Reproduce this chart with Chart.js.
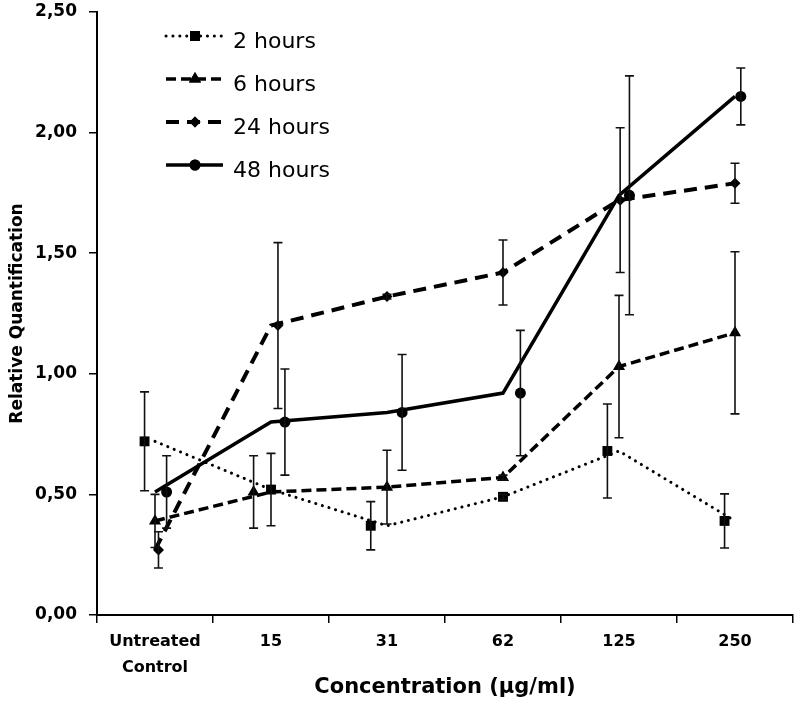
<!DOCTYPE html>
<html>
<head>
<meta charset="utf-8">
<script src="https://cdn.jsdelivr.net/npm/chart.js@4.4.1/dist/chart.umd.min.js"></script>
<style>
  html, body { margin: 0; padding: 0; background: #fff; }
  #wrap { width: 800px; height: 703px; }
</style>
</head>
<body>
<div id="wrap"><canvas id="chart"></canvas></div>
<script>
// categories on the x axis
const categories = [['Untreated', 'Control'], '15', '31', '62', '125', '250'];
const seriesNames = ['2 hours', '6 hours', '24 hours', '48 hours'];

// mean relative quantification per category
const values2h  = [0.72, 0.52, 0.37, 0.49, 0.68, 0.39];
const values6h  = [0.39, 0.51, 0.53, 0.57, 1.03, 1.17];
const values24h = [0.27, 1.20, 1.32, 1.42, 1.72, 1.79];
const values48h = [0.51, 0.80, 0.84, 0.92, 1.74, 2.15];

// error (+/-) per category
const err2h  = [0.205, 0.15, 0.10, 0.01, 0.195, 0.112];
const err6h  = [0.11, 0.15, 0.153, 0.01, 0.295, 0.336];
const err24h = [0.075, 0.344, 0.01, 0.135, 0.30, 0.083];
const err48h = [0.15, 0.22, 0.24, 0.26, 0.495, 0.118];

// marker shift from category centre (in category units)
const jitter2h  = [-0.09, 0, -0.14, 0, -0.10, -0.09];
const jitter6h  = [0, -0.15, 0, 0, 0, 0];
const jitter24h = [0.03, 0.06, 0, 0, 0.01, 0];
const jitter48h = [0.10, 0.12, 0.13, 0.15, 0.09, 0.05];

const yTicks = [0, 0.5, 1, 1.5, 2, 2.5];

const seriesValues = [values2h, values6h, values24h, values48h];
const seriesErrors = [err2h, err6h, err24h, err48h];
const seriesJitter = [jitter2h, jitter6h, jitter24h, jitter48h];

const seriesStyles = [
    { dash: [0.1, 6.8], cap: 'round', width: 3, pointStyle: 'rect', radius: 7 },
    { dash: [10, 5], cap: 'butt', width: 3.5, pointStyle: 'triangle', radius: 7 },
    { dash: [13, 8], cap: 'butt', width: 4, pointStyle: 'rectRot', radius: 5.5 },
    { dash: [], cap: 'butt', width: 3.5, pointStyle: 'circle', radius: 5.5 }
];

const FONT = 'DejaVu Sans';

const datasets = [];
seriesNames.forEach((name, s) => {
    const st = seriesStyles[s];
    datasets.push({
        label: name,
        data: seriesValues[s].map((v, i) => ({ x: i, y: v })),
        showLine: true,
        borderColor: '#000',
        borderWidth: st.width,
        borderDash: st.dash,
        borderCapStyle: st.cap,
        pointRadius: 0,
        tension: 0,
        fill: false
    });
    datasets.push({
        label: name + ' markers',
        data: seriesValues[s].map((v, i) => ({ x: i + seriesJitter[s][i], y: v, err: seriesErrors[s][i] })),
        showLine: false,
        pointStyle: st.pointStyle,
        pointRadius: st.radius,
        backgroundColor: '#000',
        borderColor: '#000',
        borderWidth: 0,
        isMarker: true
    });
});

const errorBars = {
    id: 'errorBars',
    afterDatasetsDraw(chart) {
        const { ctx, scales: { x, y } } = chart;
        ctx.save();
        ctx.strokeStyle = '#111';
        ctx.lineWidth = 1.6;
        chart.data.datasets.forEach(ds => {
            if (!ds.isMarker) return;
            ds.data.forEach(p => {
                if (!p.err) return;
                const px = x.getPixelForValue(p.x);
                const top = y.getPixelForValue(p.y + p.err);
                const bot = y.getPixelForValue(p.y - p.err);
                ctx.beginPath();
                ctx.moveTo(px, top); ctx.lineTo(px, bot);
                ctx.moveTo(px - 4.5, top); ctx.lineTo(px + 4.5, top);
                ctx.moveTo(px - 4.5, bot); ctx.lineTo(px + 4.5, bot);
                ctx.stroke();
            });
        });
        ctx.restore();
    }
};

// legend: line sample with marker in the middle, like the original
const lineLegend = {
    id: 'lineLegend',
    afterDraw(chart) {
        const { ctx, chartArea } = chart;
        const x0 = chartArea.left + 69, x1 = chartArea.left + 126, xm = chartArea.left + 98;
        ctx.save();
        seriesNames.forEach((name, s) => {
            const st = seriesStyles[s];
            const yRow = 36 + 43 * s;
            ctx.strokeStyle = '#000';
            ctx.lineWidth = st.width;
            ctx.lineCap = st.cap;
            ctx.setLineDash(st.dash);
            ctx.beginPath();
            ctx.moveTo(x0, yRow); ctx.lineTo(x1, yRow);
            ctx.stroke();
            ctx.setLineDash([]);
            ctx.fillStyle = '#000';
            Chart.helpers.drawPoint(ctx, { pointStyle: st.pointStyle, radius: st.radius, rotation: 0, borderWidth: 0 }, xm, yRow);
            ctx.fill();
            ctx.font = '22px "' + FONT + '"';
            ctx.textBaseline = 'alphabetic';
            ctx.fillText(name, chartArea.left + 136, yRow + 12);
        });
        ctx.restore();
    }
};

new Chart(document.getElementById('chart'), {
    type: 'scatter',
    data: { datasets },
    plugins: [errorBars, lineLegend],
    options: {
        responsive: true,
        maintainAspectRatio: false,
        animation: false,
        layout: { padding: { top: 12, right: 3, left: 0, bottom: 0 } },
        plugins: {
            legend: { display: false },
            tooltip: { enabled: false }
        },
        scales: {
            x: {
                type: 'linear',
                min: -0.5,
                max: 5.5,
                afterBuildTicks: (scale) => {
                    const t = [];
                    for (let v = -0.5; v <= 5.5; v += 0.5) t.push({ value: v });
                    scale.ticks = t;
                },
                afterFit: (scale) => {
                    scale.height = 88;
                    scale.paddingLeft = 0;
                    scale.paddingRight = 0;
                },
                ticks: {
                    autoSkip: false,
                    maxRotation: 0,
                    padding: 6,
                    color: '#000',
                    font: { family: FONT, size: 16, weight: 'bold', lineHeight: 1.6 },
                    callback: (v) => Number.isInteger(v) ? categories[v] : ''
                },
                grid: {
                    drawOnChartArea: false,
                    tickLength: 8,
                    lineWidth: 1.5,
                    color: (c) => (c.tick && Number.isInteger(c.tick.value)) ? 'rgba(0,0,0,0)' : '#000'
                },
                border: { color: '#000', width: 2 },
                title: {
                    display: true,
                    text: 'Concentration (µg/ml)',
                    color: '#000',
                    font: { family: FONT, size: 21, weight: 'bold' },
                    padding: { top: 0, bottom: 3 }
                }
            },
            y: {
                min: 0,
                max: 2.5,
                afterBuildTicks: (scale) => { scale.ticks = yTicks.map(v => ({ value: v })); },
                afterFit: (scale) => {
                    scale.width = 97;
                    scale.paddingTop = 0;
                    scale.paddingBottom = 0;
                },
                ticks: {
                    padding: 12,
                    color: '#000',
                    font: { family: FONT, size: 17, weight: 'bold' },
                    callback: (v) => v.toFixed(2).replace('.', ',')
                },
                grid: { drawOnChartArea: false, tickLength: 8, lineWidth: 1.5, color: '#000' },
                border: { color: '#000', width: 2 },
                title: {
                    display: true,
                    text: 'Relative Quantification',
                    color: '#000',
                    font: { family: FONT, size: 17, weight: 'bold' },
                    padding: { top: 7, bottom: 0 }
                }
            }
        }
    }
});
</script>
</body>
</html>
